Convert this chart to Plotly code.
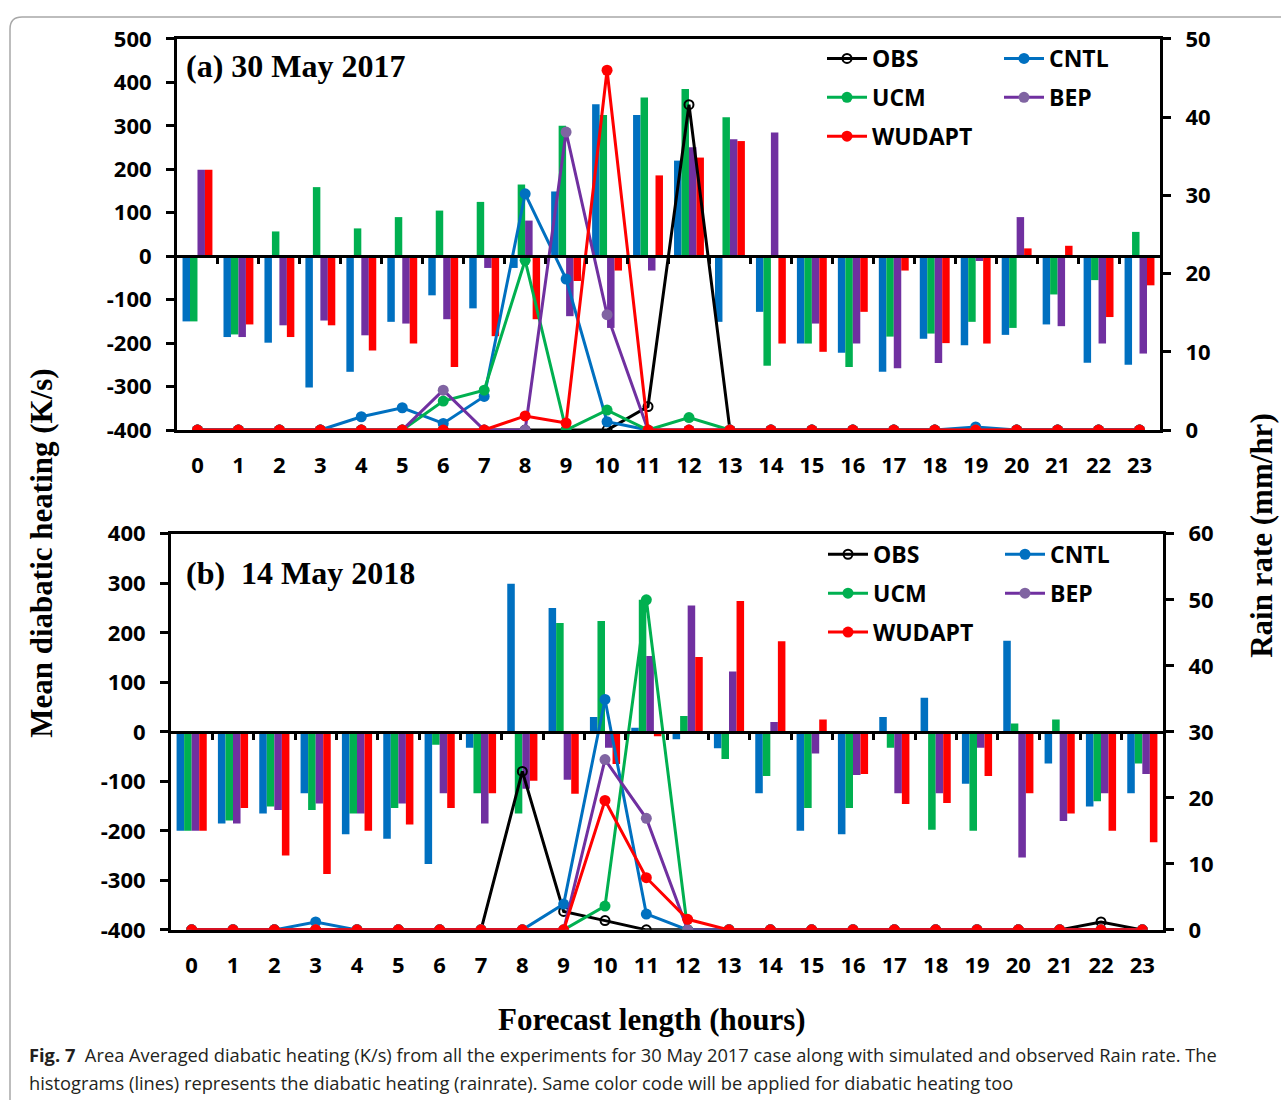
import plotly.graph_objects as go

# ---------------- data ----------------
hours = list(range(24))
hour_labels = [str(h) for h in hours]

# Panel (a) 30 May 2017 - diabatic heating (bars, K/s)
a_cntl = [-150, -186, -199, -302, -266, -151, -90, -120, -27, 149, 350, 325,
          220, -151, -128, -201, -222, -266, -190, -205, -181, -157, -245, -250]
a_ucm = [-150, -180, 57, 159, 64, 90, 105, 125, 165, 300, 325, 365,
         385, 320, -252, -201, -255, -185, -178, -151, -165, -88, -55, 56]
a_bep = [199, -186, -159, -148, -182, -155, -145, -27, 82, -138, -165, -33,
         251, 269, 285, -155, -201, -258, -246, -11, 90, -161, -201, -224]
a_wud = [199, -157, -186, -159, -217, -201, -255, -184, -145, -57, -33, 186,
         227, 265, -201, -220, -128, -33, -200, -201, 18, 24, -140, -67]

# Panel (a) rain rate (lines, mm/hr)
a_obs_r = [0, 0, 0, 0, 0, 0, 0, 0, 0, 0, 0, 3.0,
           41.6, 0, 0, 0, 0, 0, 0, 0, 0, 0, 0, 0]
a_cntl_r = [0, 0, 0, 0, 1.7, 2.85, 0.85, 4.3, 30.2, 19.3, 1.06, 0,
            0, 0, 0, 0, 0, 0, 0, 0.4, 0, 0, 0, 0]
a_ucm_r = [0, 0, 0, 0, 0, 0, 3.7, 5.1, 21.7, 0, 2.55, 0,
           1.6, 0, 0, 0, 0, 0, 0, 0, 0, 0, 0, 0]
a_bep_r = [0, 0, 0, 0, 0, 0, 5.1, 0, 0, 38.1, 14.75, 0,
           0, 0, 0, 0, 0, 0, 0, 0, 0, 0, 0, 0]
a_wud_r = [0, 0, 0, 0, 0, 0, 0, 0, 1.8, 0.9, 46.0, 0,
           0, 0, 0, 0, 0, 0, 0, 0, 0, 0, 0, 0]

# Panel (b) 14 May 2018 - diabatic heating (bars, K/s)
b_cntl = [-200, -185, -165, -124, -207, -216, -267, -32, 299, 250, 30, 8,
          -15, -33, -124, -200, -207, 30, 69, -105, 184, -64, -151, -124]
b_ucm = [-200, -179, -151, -158, -165, -154, -26, -124, -165, 220, 224, 267,
         32, -55, -89, -154, -154, -32, -198, -200, 17, 25, -140, -64]
b_bep = [-200, -185, -158, -145, -165, -145, -124, -185, -115, -97, -32, 153,
         255, 122, 20, -44, -87, -124, -124, -32, -254, -180, -124, -85]
b_wud = [-200, -154, -250, -287, -200, -187, -154, -124, -99, -125, -65, -9,
         151, 264, 183, 25, -85, -146, -144, -89, -124, -165, -200, -223]

# Panel (b) rain rate (lines, mm/hr)
b_obs_r = [0, 0, 0, 0, 0, 0, 0, 0, 24.0, 2.8, 1.4, 0,
           0, 0, 0, 0, 0, 0, 0, 0, 0, 0, 1.2, 0]
b_cntl_r = [0, 0, 0, 1.2, 0, 0, 0, 0, 0, 3.9, 34.9, 2.4,
            0, 0, 0, 0, 0, 0, 0, 0, 0, 0, 0, 0]
b_ucm_r = [0, 0, 0, 0, 0, 0, 0, 0, 0, 0, 3.6, 50.0,
           0, 0, 0, 0, 0, 0, 0, 0, 0, 0, 0, 0]
b_bep_r = [0, 0, 0, 0, 0, 0, 0, 0, 0, 0, 25.8, 16.9,
           0, 0, 0, 0, 0, 0, 0, 0, 0, 0, 0, 0]
b_wud_r = [0, 0, 0, 0, 0, 0, 0, 0, 0, 0, 19.6, 7.9,
           1.6, 0, 0, 0, 0, 0, 0, 0, 0, 0, 0, 0]

heat_ticks_a = list(range(-400, 501, 100))
heat_ticks_b = list(range(-400, 401, 100))
rain_ticks_a = list(range(0, 51, 10))
rain_ticks_b = list(range(0, 61, 10))

# ---------------- style ----------------
W, H = 1281, 1100
C_CNTL = "#0070C0"
C_UCM = "#00B050"
C_BEP = "#7030A0"
C_BEP_M = "#8064A2"
C_WUD = "#FF0000"

def px(x):
    return x / W

def py(y):
    # target pixel row -> paper fraction (compensates the capture's vertical mapping)
    return 1 - ((y - 14) / 0.975) / H

TICKFONT = dict(family="Open Sans", size=22, color="black", weight="bold")
LEGFONT = dict(family="Open Sans", size=23, color="black", weight="bold")
SERIF = "Liberation Serif"

domA_x = [px(177), px(1160)]
domA_y = [py(429), py(37)]
domB_x = [px(171), px(1163)]
domB_y = [py(930), py(533)]

fig = go.Figure()

def add_panel(xa, ya, ya2, bars, lines, legs):
    names = ["CNTL", "UCM", "BEP", "WUDAPT"]
    cols = [C_CNTL, C_UCM, C_BEP, C_WUD]
    for n, c, v in zip(names, cols, bars):
        fig.add_trace(go.Bar(x=hours, y=v, name=n, marker=dict(color=c, line=dict(width=0)),
                             xaxis=xa, yaxis=ya, showlegend=False))
    specs = [
        ("OBS", "black", "black", "circle-open", 9, lines[0], legs[0]),
        ("CNTL", C_CNTL, C_CNTL, "circle", 11, lines[1], legs[1]),
        ("UCM", C_UCM, C_UCM, "circle", 11, lines[2], legs[0]),
        ("BEP", C_BEP, C_BEP_M, "circle", 11, lines[3], legs[1]),
        ("WUDAPT", C_WUD, C_WUD, "circle", 11, lines[4], legs[0]),
    ]
    for n, lc, mc, sym, sz, v, lg in specs:
        mk = dict(color=mc, size=sz, symbol=sym)
        if sym == "circle-open":
            mk["line"] = dict(color=mc, width=2)
        fig.add_trace(go.Scatter(x=hours, y=v, name=n, mode="lines+markers",
                                 line=dict(color=lc, width=3), marker=mk,
                                 xaxis=xa, yaxis=ya2, legend=lg, legendgroup=lg + n))

add_panel("x", "y", "y2", [a_cntl, a_ucm, a_bep, a_wud],
          [a_obs_r, a_cntl_r, a_ucm_r, a_bep_r, a_wud_r], ["legend", "legend2"])
add_panel("x2", "y3", "y4", [b_cntl, b_ucm, b_bep, b_wud],
          [b_obs_r, b_cntl_r, b_ucm_r, b_bep_r, b_wud_r], ["legend3", "legend4"])

# invisible anchors for zero-line axes
fig.add_trace(go.Scatter(x=[0], y=[0], xaxis="x3", yaxis="y", mode="markers",
                         marker=dict(opacity=0), showlegend=False, hoverinfo="skip"))
fig.add_trace(go.Scatter(x=[0], y=[0], xaxis="x4", yaxis="y3", mode="markers",
                         marker=dict(opacity=0), showlegend=False, hoverinfo="skip"))

def xaxis_main(dom, anchor):
    return dict(domain=dom, anchor=anchor, range=[-0.5, 23.5], tickmode="array",
                tickvals=hours, ticktext=hour_labels, showline=True, linecolor="black",
                linewidth=3, mirror=True, ticks="outside", ticklen=0, tickfont=TICKFONT,
                ticklabelstandoff=14, showgrid=False, zeroline=False)

def yaxis_left(dom, anchor, rng, tv):
    return dict(domain=dom, anchor=anchor, range=rng, tickmode="array", tickvals=tv,
                ticktext=[str(v) for v in tv],
                showline=True, linecolor="black", linewidth=3, ticks="outside",
                ticklen=8, tickwidth=3, tickcolor="black", tickfont=TICKFONT,
                ticklabelstandoff=10, showgrid=False, zeroline=False)

def yaxis_right(over, anchor, rng, tv):
    return dict(overlaying=over, anchor=anchor, side="right", range=rng, tickmode="array",
                tickvals=tv, ticktext=[str(v) for v in tv],
                showline=True, linecolor="black", linewidth=3, ticks="outside",
                ticklen=8, tickwidth=3, tickcolor="black", tickfont=TICKFONT,
                ticklabelstandoff=10, showgrid=False, zeroline=False)

def zero_axis(over, dom_y, rng):
    pos = dom_y[0] + (0 - rng[0]) / (rng[1] - rng[0]) * (dom_y[1] - dom_y[0])
    return dict(overlaying=over, anchor="free", position=pos, range=[-0.5, 23.5],
                tickmode="array", tickvals=[h + 0.5 for h in hours[:-1]],
                ticks="outside", ticklen=6, tickwidth=3, tickcolor="black",
                showline=True, linecolor="black", linewidth=3, showticklabels=False,
                showgrid=False, zeroline=False)

def legend_at(x, y):
    return dict(x=px(x), y=py(y), xanchor="left", yanchor="top", font=LEGFONT,
                bgcolor="rgba(0,0,0,0)", itemwidth=40, tracegroupgap=6,
                traceorder="grouped", itemclick=False)

annotations = [
    dict(text="<b>(a)</b> <b>30 May 2017</b>", x=px(184), y=py(64), xref="paper", yref="paper",
         xanchor="left", yanchor="middle", showarrow=False,
         font=dict(family=SERIF, size=32, color="black")),
    dict(text="<b>(b)</b>  <b>14 May 2018</b>", x=px(184), y=py(572), xref="paper", yref="paper",
         xanchor="left", yanchor="middle", showarrow=False,
         font=dict(family=SERIF, size=32, color="black")),
    dict(text="<b>Mean diabatic heating (K/s)</b>", x=px(42), y=py(553), xref="paper",
         yref="paper", xanchor="center", yanchor="middle", textangle=-90, showarrow=False,
         font=dict(family=SERIF, size=31, color="black")),
    dict(text="<b>Rain rate (mm/hr)</b>", x=px(1262), y=py(535), xref="paper",
         yref="paper", xanchor="center", yanchor="middle", textangle=-90, showarrow=False,
         font=dict(family=SERIF, size=31, color="black")),
    dict(text="<b>Forecast length (hours)</b>", x=px(652), y=py(1020), xref="paper",
         yref="paper", xanchor="center", yanchor="middle", showarrow=False,
         font=dict(family=SERIF, size=31, color="black")),
    dict(text="<b>Fig. 7</b>  Area Averaged diabatic heating (K/s) from all the experiments for 30 May 2017 case along with simulated and observed Rain rate. The",
         x=px(27), y=py(1055), xref="paper", yref="paper", xanchor="left", yanchor="middle",
         showarrow=False, font=dict(family="Open Sans", size=18.3, color="#231F20")),
    dict(text="histograms (lines) represents the diabatic heating (rainrate). Same color code will be applied for diabatic heating too",
         x=px(27), y=py(1083), xref="paper", yref="paper", xanchor="left", yanchor="middle",
         showarrow=False, font=dict(family="Open Sans", size=18.3, color="#231F20")),
]

frame_path = (f"M {px(10)},{py(1130)} L {px(10)},{py(27)} "
              f"Q {px(10)},{py(15)} {px(22)},{py(15)} L {px(1300)},{py(15)}")

fig.update_layout(
    width=W, height=H, margin=dict(l=0, r=0, t=0, b=0),
    paper_bgcolor="white", plot_bgcolor="rgba(0,0,0,0)",
    barmode="group", bargap=0.27, bargroupgap=0,
    xaxis=xaxis_main(domA_x, "y"),
    yaxis=yaxis_left(domA_y, "x", [-400, 500], heat_ticks_a),
    yaxis2=yaxis_right("y", "x", [0, 50], rain_ticks_a),
    xaxis3=zero_axis("x", domA_y, [-400, 500]),
    xaxis2=xaxis_main(domB_x, "y3"),
    yaxis3=yaxis_left(domB_y, "x2", [-400, 400], heat_ticks_b),
    yaxis4=yaxis_right("y3", "x2", [0, 60], rain_ticks_b),
    xaxis4=zero_axis("x2", domB_y, [-400, 400]),
    legend=legend_at(822, 35),
    legend2=legend_at(999, 35),
    legend3=legend_at(823, 532),
    legend4=legend_at(1000, 532),
    annotations=annotations,
    shapes=[dict(type="path", path=frame_path, xref="paper", yref="paper",
                 line=dict(color="#A8A8A8", width=1.5))],
    hovermode=False,
    showlegend=True,
)

post = ("document.documentElement.style.margin='0';document.body.style.margin='0';"
        "document.body.style.overflow='hidden';"
        "var d=document.getElementById('{plot_id}');"
        "d.style.position='fixed';d.style.left='0px';d.style.top='0px';")

fig.write_html("out.html", post_script=post, config={"displayModeBar": False})
